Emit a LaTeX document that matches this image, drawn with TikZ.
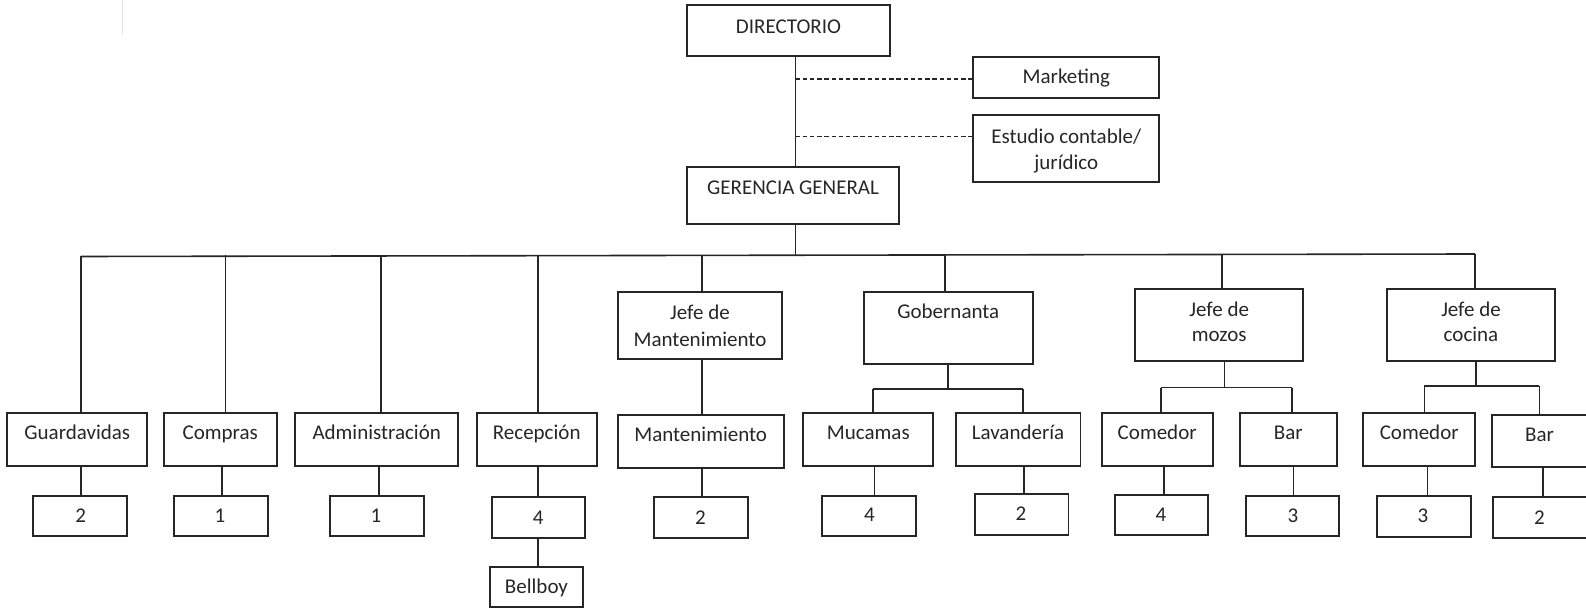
\documentclass[tikz,border=0pt]{standalone}
\usepackage{fontspec}
\setmainfont{Carlito}
\tikzset{
  obx/.style={draw=black!85, line width=0.85pt, rectangle, inner sep=0pt, outer sep=0pt},
  otx/.style={anchor=base, inner sep=0pt, text=black!85, font=\fontsize{10.5pt}{13pt}\selectfont},
  conn/.style={draw=black!85, line width=0.8pt},
  dconn/.style={draw=black!85, line width=0.8pt, dash pattern=on 2.2pt off 1.4pt}
}
\newcommand{\obox}[5]{\node[obx, minimum width={(#4-#2)*0.5pt}, minimum height={(#5-#3)*0.5pt}] (#1) at ({(#2+#4)/2},{(#3+#5)/2}) {};}
\newcommand{\otxt}[4]{\node[otx] (#1) at (#2,#3) {#4};}
\begin{document}
\begin{tikzpicture}[x=0.5pt, y=-0.5pt]
\useasboundingbox (0,0) rectangle (1586,609);
% faint mark
\draw[black!10, line width=0.8pt] (122.5,0) -- (122.5,34);
% boxes
\obox{dir}{687}{5}{890}{56}
\obox{mk}{973.3}{56.7}{1159.3}{98.3}
\obox{es}{973.3}{115}{1159.3}{182.3}
\obox{gg}{687}{167.3}{899}{224.3}
\obox{jm}{617.7}{291.7}{782.3}{359.3}
\obox{gob}{864}{291.7}{1032.7}{364}
\obox{jmz}{1135}{289}{1303.3}{360.7}
\obox{jc}{1386.7}{289}{1555.3}{361}
\obox{gua}{7.3}{413.3}{147.3}{466}
\obox{com}{164}{413.3}{276.7}{466}
\obox{adm}{295}{413.3}{458.3}{466}
\obox{rec}{476.7}{413.3}{596.7}{466}
\obox{man}{617.7}{415}{783.7}{467.7}
\obox{muc}{803.3}{413.3}{933.3}{466}
\obox{lav}{955.7}{413.3}{1080.4}{466}
\obox{cma}{1101.7}{413.3}{1212.7}{466}
\obox{bara}{1240}{413.3}{1336.7}{466}
\obox{cmb}{1363.3}{413.3}{1475}{466}
\obox{barb}{1492}{415}{1592}{467.3}
\obox{na}{32.7}{496}{127}{536}
\obox{nb}{174}{496}{268}{536}
\obox{nc}{329.7}{496}{423.7}{536}
\obox{nd}{492}{497.3}{585}{538.3}
\obox{bb}{490}{566.7}{583.3}{607.3}
\obox{ne}{653.7}{497.3}{747.7}{538.3}
\obox{nf}{822.3}{496}{916}{536}
\obox{ng}{975}{494.3}{1068.6}{535}
\obox{nh}{1115}{495}{1208.3}{535}
\obox{ni}{1245.7}{496}{1339.3}{536}
\obox{nj}{1376.7}{495.7}{1470.7}{536.7}
\obox{nk}{1493.3}{497.3}{1592}{538.3}
% texts
\otxt{tdir}{788.5}{34}{DIRECTORIO}
\otxt{tmk}{1066.3}{83.3}{Marketing}
\otxt{tes1}{1066.3}{143.5}{Estudio contable/}
\otxt{tes2}{1066.3}{170}{jurídico}
\otxt{tgg}{793}{194.8}{GERENCIA GENERAL}
\otxt{tjm1}{700}{320}{Jefe de}
\otxt{tjm2}{700}{347}{Mantenimiento}
\otxt{tgob}{948.3}{318.5}{Gobernanta}
\otxt{tjmz1}{1219.2}{317}{Jefe de}
\otxt{tjmz2}{1219.2}{342}{mozos}
\otxt{tjc1}{1471}{317}{Jefe de}
\otxt{tjc2}{1471}{342}{cocina}
\otxt{tgua}{77.3}{439.5}{Guardavidas}
\otxt{tcom}{220.3}{439.5}{Compras}
\otxt{tadm}{376.7}{439.5}{Administración}
\otxt{trec}{536.7}{439.5}{Recepción}
\otxt{tman}{700.7}{441}{Mantenimiento}
\otxt{tmuc}{868.3}{439.5}{Mucamas}
\otxt{tlav}{1018}{439.5}{Lavandería}
\otxt{tcma}{1157.2}{439.5}{Comedor}
\otxt{tbara}{1288.3}{439.5}{Bar}
\otxt{tcmb}{1419.2}{439.5}{Comedor}
\otxt{tbarb}{1539.5}{441}{Bar}
\otxt{tna}{80.7}{522.6}{2}
\otxt{tnb}{220}{522.6}{1}
\otxt{tnc}{376}{522.6}{1}
\otxt{tnd}{538.3}{524}{4}
\otxt{tbb}{536.5}{593.3}{Bellboy}
\otxt{tne}{700.5}{524}{2}
\otxt{tnf}{869.5}{521.6}{4}
\otxt{tng}{1021}{520.6}{2}
\otxt{tnh}{1161}{521}{4}
\otxt{tni}{1293}{522.3}{3}
\otxt{tnj}{1423}{522.3}{3}
\otxt{tnk}{1539.5}{524}{2}
% coordinates
\coordinate (sp) at (795.5,0);
\coordinate (d1) at (795.5,79);
\coordinate (d2) at (795.5,136.7);
\coordinate (busL) at (81,256.5);
\coordinate (busR) at (1475,254);
\coordinate (bus) at (0,255.5);
\coordinate (xa) at (81,0);
\coordinate (xb) at (225.5,0);
\coordinate (xc) at (381,0);
\coordinate (xd) at (538,0);
\coordinate (xe) at (701.7,0);
\coordinate (xf) at (945,0);
\coordinate (xg) at (1222,0);
\coordinate (xh) at (1475,0);
% top spine
\draw[conn] (dir.south -| sp) -- (gg.north -| sp);
\draw[dconn] (d1) -- (d1 -| mk.west);
\draw[dconn] (d2) -- (d2 -| es.west);
\draw[conn] (gg.south -| sp) -- (sp |- bus);
\draw[conn] (busL) -- (busR);
% drops from bus
\draw[conn] (xa |- busL) -- (xa |- gua.north);
\draw[conn] (xb |- bus) -- (xb |- com.north);
\draw[conn] (xc |- bus) -- (xc |- adm.north);
\draw[conn] (xd |- bus) -- (xd |- rec.north);
\draw[conn] (xe |- bus) -- (xe |- jm.north);
\draw[conn] (xf |- bus) -- (xf |- gob.north);
\draw[conn] (xg |- bus) -- (xg |- jmz.north);
\draw[conn] (xh |- busR) -- (xh |- jc.north);
% row 3 to numbers
\draw[conn] (gua.south -| 80.7,0) -- (na.north -| 80.7,0);
\draw[conn] (com.south -| 221.7,0) -- (nb.north -| 221.7,0);
\draw[conn] (adm.south -| 379,0) -- (nc.north -| 379,0);
\draw[conn] (rec.south -| xd) -- (nd.north -| xd);
\draw[conn] (nd.south -| xd) -- (bb.north -| xd);
\draw[conn] (jm.south -| xe) -- (man.north -| xe);
\draw[conn] (man.south -| xe) -- (ne.north -| xe);
% gobernanta
\coordinate (gbus) at (947.7,389.3);
\draw[conn] (gob.south -| gbus) -- (gbus);
\draw[conn] (872.7,389.3) -- (1022.7,389.3);
\draw[conn] (872.7,389.3) -- (muc.north -| 872.7,0);
\draw[conn] (1022.7,389.3) -- (lav.north -| 1022.7,0);
\draw[conn] (muc.south -| 874.3,0) -- (nf.north -| 874.3,0);
\draw[conn] (lav.south -| 1024,0) -- (ng.north -| 1024,0);
% jefe de mozos
\coordinate (mbus) at (1224.3,387.7);
\draw[conn] (jmz.south -| mbus) -- (mbus);
\draw[conn] (1161,387.7) -- (1292,387.7);
\draw[conn] (1161,387.7) -- (cma.north -| 1161,0);
\draw[conn] (1292,387.7) -- (bara.north -| 1292,0);
\draw[conn] (cma.south -| 1164,0) -- (nh.north -| 1164,0);
\draw[conn] (bara.south -| 1293.3,0) -- (ni.north -| 1293.3,0);
% jefe de cocina
\coordinate (cbus) at (1476,386);
\draw[conn] (jc.south -| cbus) -- (cbus);
\draw[conn] (1424.3,386) -- (1539.3,386);
\draw[conn] (1424.3,386) -- (cmb.north -| 1424.3,0);
\draw[conn] (1539.3,386) -- (barb.north -| 1539.3,0);
\draw[conn] (cmb.south -| 1427.3,0) -- (nj.north -| 1427.3,0);
\draw[conn] (barb.south -| 1542.7,0) -- (nk.north -| 1542.7,0);
\end{tikzpicture}
\end{document}
